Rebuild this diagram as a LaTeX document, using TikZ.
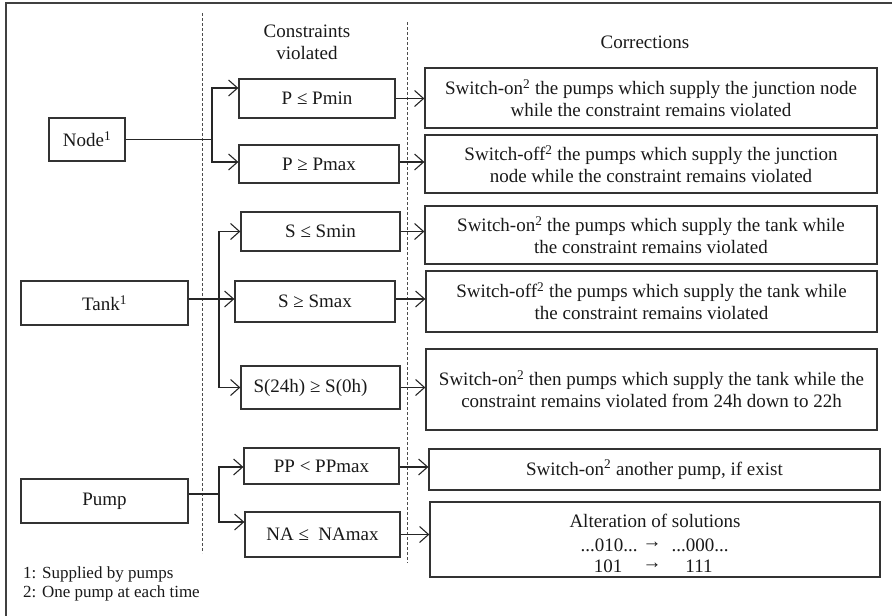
\documentclass[tikz,border=0pt]{standalone}
\usepackage{fontspec}
\setmainfont{Liberation Serif}
\usetikzlibrary{arrows.meta}
\begin{document}
\begin{tikzpicture}[x=1pt,y=-1pt,
 box/.style={draw=black!80,line width=1.3pt,inner sep=0pt,align=center,text=black!90,font=\fontsize{19}{22}\selectfont},
 txt/.style={inner sep=0pt,text=black!90,font=\fontsize{19}{22}\selectfont},
 conn/.style={draw=black!85,line width=1.1pt},
 arr/.style={conn,-{Straight Barb[length=9pt,width=16pt,line width=1.1pt]}},
 sep/.style={draw=black!70,line width=0.6pt,dash pattern=on 3pt off 2pt},
 hdr/.style={font=\fontsize{19}{22}\selectfont,align=center,text=black!90},
 note/.style={font=\fontsize{17}{19}\selectfont,anchor=west,inner sep=0pt,text=black!90}]
\useasboundingbox (0,0) rectangle (892,616);
\draw[line width=1.3pt,draw=black!75] (892,3) -- (6,3) -- (6,616);
% separators
\draw[sep] (202,13) -- (202,553);
\draw[sep] (407,22) -- (407,563);
% headers
\node[hdr] (h1) at (307,42.5) {Constraints\\violated};
\node[hdr] (h2) at (645,42) {Corrections};
% left boxes
\node[box,minimum width=76pt,minimum height=43pt] (node) at (87,139.5) {Node\textsuperscript{1}};
\node[box,minimum width=167pt,minimum height=44pt] (tank) at (104.5,303) {Tank\textsuperscript{1}};
\node[box,minimum width=167pt,minimum height=44pt] (pump) at (104.5,501) {Pump};
% constraint boxes
\node[box,minimum width=156pt,minimum height=39pt] (c1) at (317,98.5) {P ≤ Pmin};
\node[box,minimum width=160pt,minimum height=38pt] (c2) at (319,164) {P ≥ Pmax};
\node[box,minimum width=159pt,minimum height=39pt] (c3) at (320.5,231.5) {S ≤ Smin};
\node[box,minimum width=160pt,minimum height=41pt] (c4) at (315,301.5) {S ≥ Smax};
\node[box,minimum width=159pt,minimum height=43pt] (c5) at (320.5,387.5) {S(24h) ≥ S(0h)\rule{20pt}{0pt}};
\node[box,minimum width=155pt,minimum height=36pt] (c6) at (321.5,466) {PP < PPmax};
\node[box,minimum width=155pt,minimum height=45pt] (c7) at (322.5,534.5) {NA ≤\ \ NAmax};
% correction boxes
\node[box,minimum width=452pt,minimum height=60pt] (r1) at (651,98) {Switch-on\textsuperscript{2} the pumps which supply the junction node\\while the constraint remains violated};
\node[box,minimum width=452pt,minimum height=58pt] (r2) at (651,164) {Switch-off\textsuperscript{2} the pumps which supply the junction\\node while the constraint remains violated};
\node[box,minimum width=452pt,minimum height=58pt] (r3) at (651,235) {Switch-on\textsuperscript{2} the pumps which supply the tank while\\the constraint remains violated};
\node[box,minimum width=451pt,minimum height=61pt] (r4) at (651.5,301.5) {Switch-off\textsuperscript{2} the pumps which supply the tank while\\the constraint remains violated};
\node[box,minimum width=451pt,minimum height=81pt] (r5) at (651.5,389.5) {Switch-on\textsuperscript{2} then pumps which supply the tank while the\\constraint remains violated from 24h down to 22h};
\node[box,minimum width=451pt,minimum height=41pt] (r6) at (654.5,469.5) {Switch-on\textsuperscript{2} another pump, if exist};
\node[box,minimum width=450pt,minimum height=75pt] (r7) at (655,539.5) {};
\node[txt] (a0) at (655,521) {Alteration of solutions};
\node[txt] (a1) at (609,545) {...010...};
\node[txt] (a2) at (652,545) {→};
\node[txt] (a3) at (700,545) {...000...};
\node[txt] (b1) at (608,566) {101};
\node[txt] (b2) at (652,566) {→};
\node[txt] (b3) at (699,566) {111};
% footnotes
\node[note] (f1) at (23,574) {1: Supplied by pumps};
\node[note] (f2) at (23,593) {2: One pump at each time};
% branch points
\coordinate (bn) at (212,139.5);
\coordinate (bt) at (219,299);
\coordinate (bp) at (219,494);
% node connectors
\draw[conn] (node.east) -- (bn);
\draw[arr] (bn) |- ([yshift=10.5pt]c1.west);
\draw[arr] (bn) |- ([yshift=2pt]c2.west);
% tank connectors
\draw[arr] ([yshift=4pt]tank.east) -- ([yshift=4pt]tank.east -| c4.west);
\draw[arr] (bt) |- (c3.west);
\draw[arr] (bt) |- (c5.west);
% pump connectors
\draw[conn] ([yshift=7pt]pump.east) -- (bp);
\draw[arr] (bp) |- ([yshift=-1pt]c6.west);
\draw[arr] (bp) |- ([yshift=12.5pt]c7.west);
% constraint to correction
\draw[arr] (c1.east) -- (c1.east -| r1.west);
\draw[arr] ([yshift=2pt]c2.east) -- ([yshift=2pt]c2.east -| r2.west);
\draw[arr] (c3.east) -- (c3.east -| r3.west);
\draw[arr] ([yshift=2.5pt]c4.east) -- ([yshift=2.5pt]c4.east -| r4.west);
\draw[arr] (c5.east) -- (c5.east -| r5.west);
\draw[arr] ([yshift=-1pt]c6.east) -- ([yshift=-1pt]c6.east -| r6.west);
\draw[arr] (c7.east) -- (c7.east -| r7.west);
\end{tikzpicture}
\end{document}
